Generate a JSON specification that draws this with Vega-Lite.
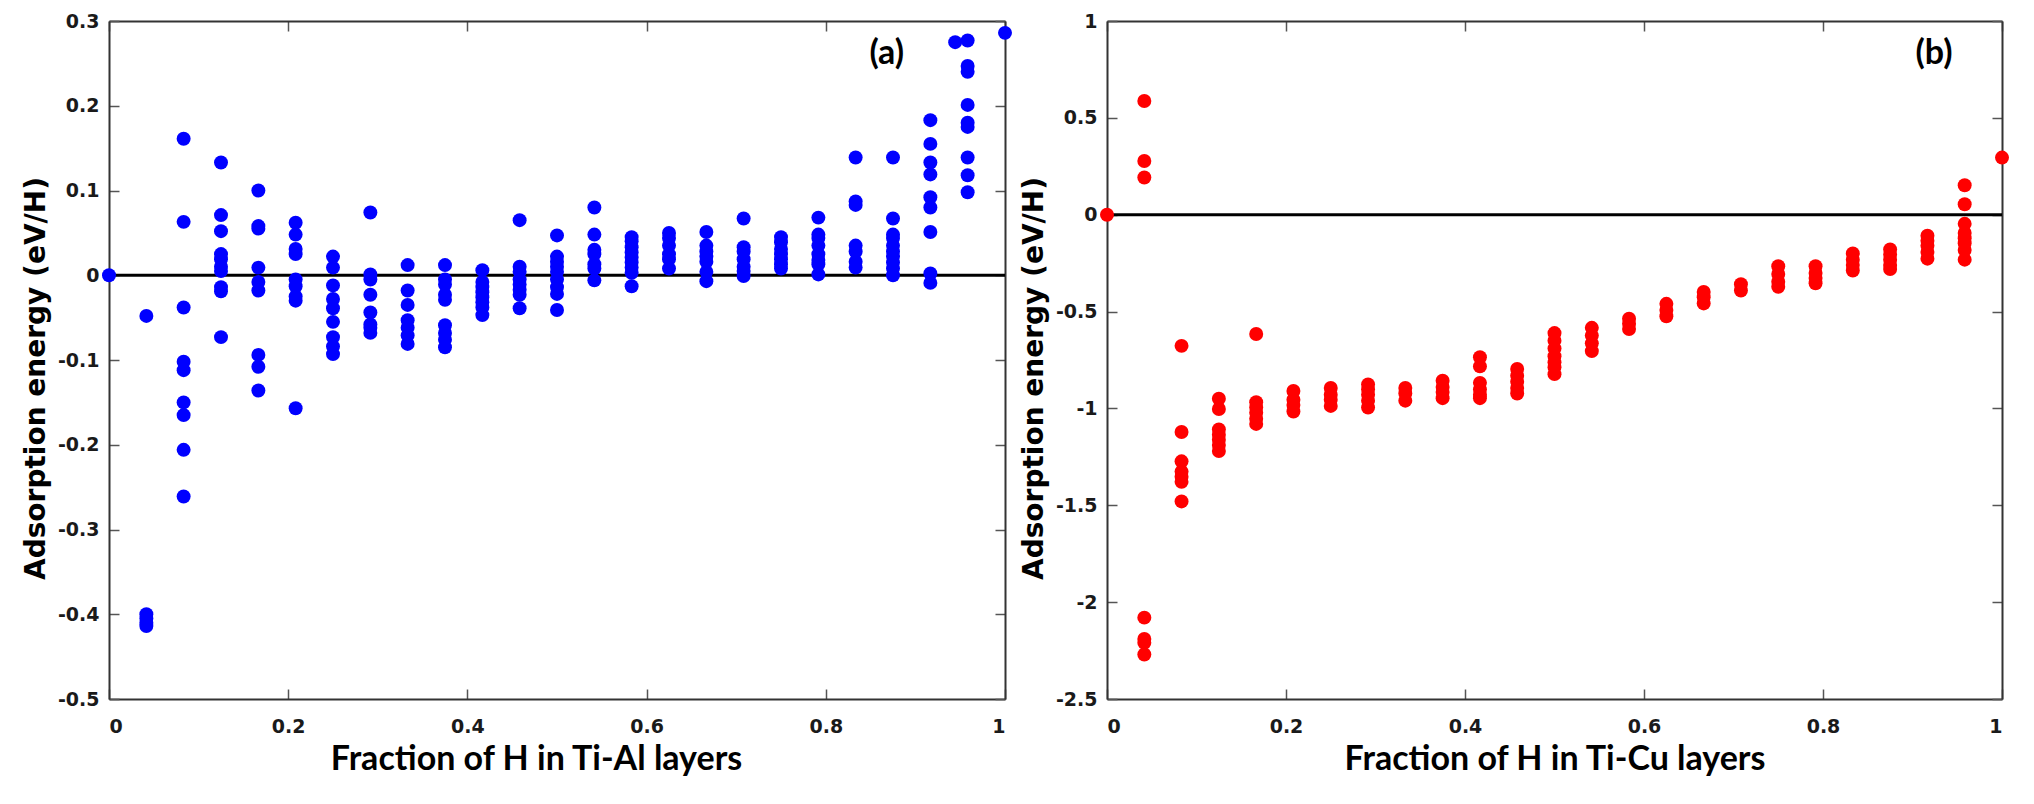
{
"$schema": "https://vega.github.io/schema/vega-lite/v6.json",
"padding": {"left": 22, "top": 12, "right": 5, "bottom": 5},
"spacing": 8,
"datasets": {
"tial": [
{"f":0,"e":0},
{"f":0.0417,"e":-0.048},{"f":0.0417,"e":-0.400},{"f":0.0417,"e":-0.405},{"f":0.0417,"e":-0.410},{"f":0.0417,"e":-0.414},
{"f":0.0833,"e":0.161},{"f":0.0833,"e":0.063},{"f":0.0833,"e":-0.038},{"f":0.0833,"e":-0.102},{"f":0.0833,"e":-0.112},{"f":0.0833,"e":-0.150},{"f":0.0833,"e":-0.165},{"f":0.0833,"e":-0.206},{"f":0.0833,"e":-0.261},
{"f":0.125,"e":0.133},{"f":0.125,"e":0.071},{"f":0.125,"e":0.052},{"f":0.125,"e":0.025},{"f":0.125,"e":0.019},{"f":0.125,"e":0.010},{"f":0.125,"e":0.005},{"f":0.125,"e":-0.014},{"f":0.125,"e":-0.019},{"f":0.125,"e":-0.073},
{"f":0.1667,"e":0.100},{"f":0.1667,"e":0.058},{"f":0.1667,"e":0.055},{"f":0.1667,"e":0.009},{"f":0.1667,"e":-0.008},{"f":0.1667,"e":-0.018},{"f":0.1667,"e":-0.094},{"f":0.1667,"e":-0.108},{"f":0.1667,"e":-0.136},
{"f":0.2083,"e":0.062},{"f":0.2083,"e":0.048},{"f":0.2083,"e":0.031},{"f":0.2083,"e":0.025},{"f":0.2083,"e":-0.005},{"f":0.2083,"e":-0.013},{"f":0.2083,"e":-0.025},{"f":0.2083,"e":-0.030},{"f":0.2083,"e":-0.157},
{"f":0.25,"e":0.022},{"f":0.25,"e":0.009},{"f":0.25,"e":-0.012},{"f":0.25,"e":-0.028},{"f":0.25,"e":-0.039},{"f":0.25,"e":-0.055},{"f":0.25,"e":-0.073},{"f":0.25,"e":-0.084},{"f":0.25,"e":-0.093},
{"f":0.2917,"e":0.074},{"f":0.2917,"e":0.001},{"f":0.2917,"e":-0.005},{"f":0.2917,"e":-0.023},{"f":0.2917,"e":-0.044},{"f":0.2917,"e":-0.058},{"f":0.2917,"e":-0.062},{"f":0.2917,"e":-0.068},
{"f":0.3333,"e":0.012},{"f":0.3333,"e":-0.018},{"f":0.3333,"e":-0.035},{"f":0.3333,"e":-0.053},{"f":0.3333,"e":-0.062},{"f":0.3333,"e":-0.071},{"f":0.3333,"e":-0.081},
{"f":0.375,"e":0.012},{"f":0.375,"e":-0.005},{"f":0.375,"e":-0.011},{"f":0.375,"e":-0.023},{"f":0.375,"e":-0.029},{"f":0.375,"e":-0.059},{"f":0.375,"e":-0.068},{"f":0.375,"e":-0.076},{"f":0.375,"e":-0.085},
{"f":0.4167,"e":0.006},{"f":0.4167,"e":-0.008},{"f":0.4167,"e":-0.014},{"f":0.4167,"e":-0.020},{"f":0.4167,"e":-0.026},{"f":0.4167,"e":-0.032},{"f":0.4167,"e":-0.038},{"f":0.4167,"e":-0.047},
{"f":0.4583,"e":0.065},{"f":0.4583,"e":0.010},{"f":0.4583,"e":0.004},{"f":0.4583,"e":-0.005},{"f":0.4583,"e":-0.011},{"f":0.4583,"e":-0.017},{"f":0.4583,"e":-0.023},{"f":0.4583,"e":-0.039},
{"f":0.5,"e":0.047},{"f":0.5,"e":0.022},{"f":0.5,"e":0.016},{"f":0.5,"e":0.010},{"f":0.5,"e":0.004},{"f":0.5,"e":-0.005},{"f":0.5,"e":-0.014},{"f":0.5,"e":-0.022},{"f":0.5,"e":-0.041},
{"f":0.5417,"e":0.080},{"f":0.5417,"e":0.048},{"f":0.5417,"e":0.030},{"f":0.5417,"e":0.025},{"f":0.5417,"e":0.013},{"f":0.5417,"e":0.008},{"f":0.5417,"e":-0.006},
{"f":0.5833,"e":0.045},{"f":0.5833,"e":0.040},{"f":0.5833,"e":0.033},{"f":0.5833,"e":0.027},{"f":0.5833,"e":0.021},{"f":0.5833,"e":0.015},{"f":0.5833,"e":0.009},{"f":0.5833,"e":0.003},{"f":0.5833,"e":-0.013},
{"f":0.625,"e":0.050},{"f":0.625,"e":0.044},{"f":0.625,"e":0.035},{"f":0.625,"e":0.025},{"f":0.625,"e":0.019},{"f":0.625,"e":0.008},
{"f":0.6667,"e":0.051},{"f":0.6667,"e":0.035},{"f":0.6667,"e":0.028},{"f":0.6667,"e":0.022},{"f":0.6667,"e":0.016},{"f":0.6667,"e":0.004},{"f":0.6667,"e":-0.007},
{"f":0.7083,"e":0.067},{"f":0.7083,"e":0.033},{"f":0.7083,"e":0.028},{"f":0.7083,"e":0.019},{"f":0.7083,"e":0.010},{"f":0.7083,"e":0.005},{"f":0.7083,"e":-0.001},
{"f":0.75,"e":0.045},{"f":0.75,"e":0.039},{"f":0.75,"e":0.031},{"f":0.75,"e":0.025},{"f":0.75,"e":0.019},{"f":0.75,"e":0.013},{"f":0.75,"e":0.008},
{"f":0.7917,"e":0.068},{"f":0.7917,"e":0.048},{"f":0.7917,"e":0.044},{"f":0.7917,"e":0.035},{"f":0.7917,"e":0.025},{"f":0.7917,"e":0.018},{"f":0.7917,"e":0.013},{"f":0.7917,"e":0.001},
{"f":0.8333,"e":0.139},{"f":0.8333,"e":0.087},{"f":0.8333,"e":0.083},{"f":0.8333,"e":0.035},{"f":0.8333,"e":0.028},{"f":0.8333,"e":0.016},{"f":0.8333,"e":0.009},
{"f":0.875,"e":0.139},{"f":0.875,"e":0.067},{"f":0.875,"e":0.048},{"f":0.875,"e":0.044},{"f":0.875,"e":0.035},{"f":0.875,"e":0.028},{"f":0.875,"e":0.022},{"f":0.875,"e":0.015},{"f":0.875,"e":0.008},{"f":0.875,"e":0.000},
{"f":0.9167,"e":0.183},{"f":0.9167,"e":0.155},{"f":0.9167,"e":0.133},{"f":0.9167,"e":0.119},{"f":0.9167,"e":0.092},{"f":0.9167,"e":0.080},{"f":0.9167,"e":0.051},{"f":0.9167,"e":0.002},{"f":0.9167,"e":-0.009},
{"f":0.9444,"e":0.275},
{"f":0.9583,"e":0.277},{"f":0.9583,"e":0.247},{"f":0.9583,"e":0.240},{"f":0.9583,"e":0.201},{"f":0.9583,"e":0.180},{"f":0.9583,"e":0.175},{"f":0.9583,"e":0.139},{"f":0.9583,"e":0.118},{"f":0.9583,"e":0.098},
{"f":1,"e":0.286}
],
"ticu": [
{"f":0,"e":0},
{"f":0.0417,"e":0.587},{"f":0.0417,"e":0.277},{"f":0.0417,"e":0.192},{"f":0.0417,"e":-2.08},{"f":0.0417,"e":-2.19},{"f":0.0417,"e":-2.21},{"f":0.0417,"e":-2.27},
{"f":0.0833,"e":-0.677},{"f":0.0833,"e":-1.122},{"f":0.0833,"e":-1.273},{"f":0.0833,"e":-1.326},{"f":0.0833,"e":-1.353},{"f":0.0833,"e":-1.379},{"f":0.0833,"e":-1.48},
{"f":0.125,"e":-0.95},{"f":0.125,"e":-1.003},{"f":0.125,"e":-1.109},{"f":0.125,"e":-1.136},{"f":0.125,"e":-1.162},{"f":0.125,"e":-1.189},{"f":0.125,"e":-1.22},
{"f":0.1667,"e":-0.616},{"f":0.1667,"e":-0.968},{"f":0.1667,"e":-0.995},{"f":0.1667,"e":-1.022},{"f":0.1667,"e":-1.053},{"f":0.1667,"e":-1.08},
{"f":0.2083,"e":-0.91},{"f":0.2083,"e":-0.955},{"f":0.2083,"e":-0.982},{"f":0.2083,"e":-1.016},
{"f":0.25,"e":-0.894},{"f":0.25,"e":-0.929},{"f":0.25,"e":-0.955},{"f":0.25,"e":-0.987},
{"f":0.2917,"e":-0.876},{"f":0.2917,"e":-0.902},{"f":0.2917,"e":-0.929},{"f":0.2917,"e":-0.96},{"f":0.2917,"e":-0.995},
{"f":0.3333,"e":-0.894},{"f":0.3333,"e":-0.923},{"f":0.3333,"e":-0.96},
{"f":0.375,"e":-0.857},{"f":0.375,"e":-0.889},{"f":0.375,"e":-0.915},{"f":0.375,"e":-0.947},
{"f":0.4167,"e":-0.736},{"f":0.4167,"e":-0.783},{"f":0.4167,"e":-0.868},{"f":0.4167,"e":-0.902},{"f":0.4167,"e":-0.929},{"f":0.4167,"e":-0.947},
{"f":0.4583,"e":-0.796},{"f":0.4583,"e":-0.831},{"f":0.4583,"e":-0.862},{"f":0.4583,"e":-0.894},{"f":0.4583,"e":-0.923},
{"f":0.5,"e":-0.611},{"f":0.5,"e":-0.65},{"f":0.5,"e":-0.69},{"f":0.5,"e":-0.73},{"f":0.5,"e":-0.762},{"f":0.5,"e":-0.788},{"f":0.5,"e":-0.823},
{"f":0.5417,"e":-0.584},{"f":0.5417,"e":-0.624},{"f":0.5417,"e":-0.664},{"f":0.5417,"e":-0.704},
{"f":0.5833,"e":-0.537},{"f":0.5833,"e":-0.563},{"f":0.5833,"e":-0.59},
{"f":0.625,"e":-0.46},{"f":0.625,"e":-0.492},{"f":0.625,"e":-0.524},
{"f":0.6667,"e":-0.399},{"f":0.6667,"e":-0.426},{"f":0.6667,"e":-0.458},
{"f":0.7083,"e":-0.359},{"f":0.7083,"e":-0.391},
{"f":0.75,"e":-0.266},{"f":0.75,"e":-0.306},{"f":0.75,"e":-0.346},{"f":0.75,"e":-0.372},
{"f":0.7917,"e":-0.266},{"f":0.7917,"e":-0.301},{"f":0.7917,"e":-0.327},{"f":0.7917,"e":-0.354},
{"f":0.8333,"e":-0.2},{"f":0.8333,"e":-0.232},{"f":0.8333,"e":-0.259},{"f":0.8333,"e":-0.288},
{"f":0.875,"e":-0.179},{"f":0.875,"e":-0.206},{"f":0.875,"e":-0.232},{"f":0.875,"e":-0.259},{"f":0.875,"e":-0.28},
{"f":0.9167,"e":-0.108},{"f":0.9167,"e":-0.134},{"f":0.9167,"e":-0.16},{"f":0.9167,"e":-0.192},{"f":0.9167,"e":-0.227},
{"f":0.9583,"e":0.152},{"f":0.9583,"e":0.054},{"f":0.9583,"e":-0.047},{"f":0.9583,"e":-0.094},{"f":0.9583,"e":-0.121},{"f":0.9583,"e":-0.147},{"f":0.9583,"e":-0.182},{"f":0.9583,"e":-0.232},
{"f":1,"e":0.295}
]
},
"hconcat": [
{
"width": 896, "height": 678,
"resolve": {"axis": {"x": "independent", "y": "independent"}},
"layer": [
{"data": {"values": [{}]}, "mark": {"type": "rule", "color": "#000000", "strokeWidth": 3},
 "encoding": {"y": {"datum": 0, "type": "quantitative", "axis": null}}},
{"data": {"name": "tial"},
 "mark": {"type": "point", "shape": "circle", "filled": true, "size": 195, "color": "#0000ff", "opacity": 1},
 "encoding": {
  "x": {"field": "f", "type": "quantitative", "scale": {"domain": [0, 1], "nice": false, "zero": false},
   "axis": {"orient": "bottom", "values": [0, 0.2, 0.4, 0.6, 0.8, 1], "labelExpr": "replace(format(datum.value,'~g'),'\u2212','-')", "labelPadding": 28,
    "title": "Fraction of H in Ti-Al layers", "titleFont": "Lato", "titleFontSize": 34, "titlePadding": 6, "titleX": 427}},
  "y": {"field": "e", "type": "quantitative", "scale": {"domain": [-0.5, 0.3], "nice": false, "zero": false},
   "axis": {"orient": "left", "values": [-0.5, -0.4, -0.3, -0.2, -0.1, 0, 0.1, 0.2, 0.3], "labelExpr": "replace(format(datum.value,'~g'),'\u2212','-')", "labelPadding": 20,
    "title": "Adsorption energy (eV/H)", "titleFont": "DejaVu Sans", "titleFontSize": 28, "titlePadding": 7, "titleY": 357}}
 }},
{"data": {"name": "tial"}, "mark": {"type": "point", "opacity": 0},
 "encoding": {
  "x": {"field": "f", "type": "quantitative", "axis": {"orient": "top", "values": [0, 0.2, 0.4, 0.6, 0.8, 1], "labels": false, "title": null}},
  "y": {"field": "e", "type": "quantitative", "axis": {"orient": "right", "values": [-0.5, -0.4, -0.3, -0.2, -0.1, 0, 0.1, 0.2, 0.3], "labels": false, "title": null}}
 }},
{"data": {"values": [{}]}, "mark": {"type": "text", "text": "(a)", "font": "Lato", "fontWeight": "bold", "fontSize": 34, "color": "#000000", "align": "center", "baseline": "middle"},
 "encoding": {"x": {"datum": 0.868, "type": "quantitative", "axis": null}, "y": {"datum": 0.261, "type": "quantitative", "axis": null}}}
]
},
{
"width": 895, "height": 678,
"resolve": {"axis": {"x": "independent", "y": "independent"}},
"layer": [
{"data": {"values": [{}]}, "mark": {"type": "rule", "color": "#000000", "strokeWidth": 3},
 "encoding": {"y": {"datum": 0, "type": "quantitative", "axis": null}}},
{"data": {"name": "ticu"},
 "mark": {"type": "point", "shape": "circle", "filled": true, "size": 195, "color": "#ff0000", "opacity": 1},
 "encoding": {
  "x": {"field": "f", "type": "quantitative", "scale": {"domain": [0, 1], "nice": false, "zero": false},
   "axis": {"orient": "bottom", "values": [0, 0.2, 0.4, 0.6, 0.8, 1], "labelExpr": "replace(format(datum.value,'~g'),'\u2212','-')", "labelPadding": 28,
    "title": "Fraction of H in Ti-Cu layers", "titleFont": "Lato", "titleFontSize": 34, "titlePadding": 6}},
  "y": {"field": "e", "type": "quantitative", "scale": {"domain": [-2.5, 1], "nice": false, "zero": false},
   "axis": {"orient": "left", "values": [-2.5, -2, -1.5, -1, -0.5, 0, 0.5, 1], "labelExpr": "replace(format(datum.value,'~g'),'\u2212','-')", "labelPadding": 20,
    "title": "Adsorption energy (eV/H)", "titleFont": "DejaVu Sans", "titleFontSize": 28, "titlePadding": 7, "titleY": 357}}
 }},
{"data": {"name": "ticu"}, "mark": {"type": "point", "opacity": 0},
 "encoding": {
  "x": {"field": "f", "type": "quantitative", "axis": {"orient": "top", "values": [0, 0.2, 0.4, 0.6, 0.8, 1], "labels": false, "title": null}},
  "y": {"field": "e", "type": "quantitative", "axis": {"orient": "right", "values": [-2.5, -2, -1.5, -1, -0.5, 0, 0.5, 1], "labels": false, "title": null}}
 }},
{"data": {"values": [{}]}, "mark": {"type": "text", "text": "(b)", "font": "Lato", "fontWeight": "bold", "fontSize": 34, "color": "#000000", "align": "center", "baseline": "middle"},
 "encoding": {"x": {"datum": 0.924, "type": "quantitative", "axis": null}, "y": {"datum": 0.83, "type": "quantitative", "axis": null}}}
]
}
],
"config": {
 "view": {"stroke": null},
 "axis": {"labelFont": "DejaVu Sans", "labelFontWeight": "bold", "labelFontSize": 19, "labelColor": "#1a1a1a",
  "domainColor": "#333333", "domainWidth": 2, "tickColor": "#555555", "tickWidth": 1.5, "tickSize": -10, "grid": false,
  "titleFontWeight": "bold", "titleColor": "#000000"}
}
}
